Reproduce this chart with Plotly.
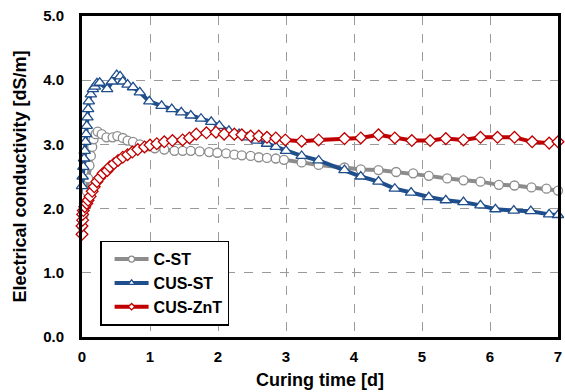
import plotly.graph_objects as go

cst_t = [0, 0.02, 0.05, 0.07, 0.09, 0.11, 0.13, 0.15, 0.17, 0.2, 0.23, 0.29, 0.36, 0.45, 0.52, 0.6, 0.67,
         0.75, 0.85, 0.96, 1.07, 1.21, 1.36, 1.48, 1.6, 1.73, 1.87, 1.99, 2.12, 2.24, 2.35, 2.48, 2.6, 2.72,
         2.85, 2.97, 3.23, 3.48, 3.86, 4.1, 4.36, 4.62, 4.87, 5.1, 5.37, 5.61, 5.86, 6.13, 6.36, 6.61, 6.83, 7.0]
cst_v = [1.73, 1.9, 2.05, 2.27, 2.47, 2.67, 2.82, 2.96, 3.08, 3.16, 3.2, 3.16, 3.11, 3.11, 3.13, 3.1, 3.06,
         3.04, 3.0, 2.97, 2.94, 2.92, 2.9, 2.9, 2.9, 2.89, 2.88, 2.87, 2.86, 2.84, 2.83, 2.82, 2.8, 2.79,
         2.78, 2.76, 2.72, 2.68, 2.64, 2.61, 2.6, 2.57, 2.55, 2.51, 2.47, 2.44, 2.42, 2.37, 2.36, 2.33, 2.31, 2.28]

cusst_t = [0, 0.01, 0.02, 0.03, 0.04, 0.05, 0.06, 0.07, 0.08, 0.09, 0.1, 0.13, 0.16, 0.19, 0.22, 0.26, 0.37,
           0.44, 0.51, 0.56, 0.6, 0.67, 0.75, 0.85, 0.99, 1.17, 1.32, 1.46, 1.6, 1.75, 1.9, 2.02, 2.16, 2.31,
           2.43, 2.57, 2.72, 2.85, 3.0, 3.23, 3.48, 3.86, 4.1, 4.36, 4.6, 4.84, 5.1, 5.35, 5.61, 5.86, 6.08,
           6.35, 6.6, 6.87, 7.0]
cusst_v = [2.35, 2.5, 2.65, 2.78, 2.9, 3.04, 3.16, 3.29, 3.42, 3.55, 3.67, 3.78, 3.86, 3.9, 3.95, 3.96, 3.86,
           3.98, 4.08, 4.06, 3.98, 3.93, 3.89, 3.81, 3.67, 3.6, 3.55, 3.5, 3.45, 3.4, 3.35, 3.29, 3.21, 3.16,
           3.11, 3.06, 3.01, 2.96, 2.9, 2.82, 2.75, 2.6, 2.5, 2.42, 2.31, 2.25, 2.18, 2.13, 2.1, 2.05, 1.99,
           1.97, 1.96, 1.91, 1.9]

cuszn_t = [0, 0.0, 0.01, 0.01, 0.02, 0.04, 0.07, 0.09, 0.12, 0.15, 0.18, 0.22, 0.26, 0.31, 0.37, 0.41, 0.47,
           0.53, 0.6, 0.67, 0.74, 0.82, 0.92, 1.0, 1.1, 1.21, 1.33, 1.48, 1.58, 1.68, 1.83, 1.97, 2.09, 2.24,
           2.35, 2.48, 2.6, 2.72, 2.85, 2.99, 3.23, 3.48, 3.86, 4.1, 4.36, 4.6, 4.85, 5.12, 5.35, 5.61, 5.86,
           6.11, 6.36, 6.62, 6.87, 7.0]
cuszn_v = [1.6, 1.73, 1.82, 1.91, 1.97, 2.03, 2.08, 2.13, 2.19, 2.27, 2.34, 2.42, 2.48, 2.55, 2.59, 2.65, 2.7,
           2.75, 2.8, 2.84, 2.88, 2.92, 2.96, 2.99, 3.01, 3.04, 3.06, 3.07, 3.1, 3.16, 3.18, 3.19, 3.16, 3.16,
           3.15, 3.13, 3.13, 3.11, 3.1, 3.07, 3.05, 3.07, 3.09, 3.1, 3.15, 3.1, 3.06, 3.06, 3.09, 3.07, 3.11,
           3.11, 3.11, 3.04, 3.02, 3.04]

x_ticks = [0, 1, 2, 3, 4, 5, 6, 7]
y_ticks = [0, 1, 2, 3, 4, 5]

FONT = "Arial, Liberation Sans, sans-serif"

fig = go.Figure()
series = [
    ("C-ST", cst_t, cst_v, "#8c8c8c", "circle", 9, 6),
    ("CUS-ST", cusst_t, cusst_v, "#1f4e8c", "triangle-up", 10, 6),
    ("CUS-ZnT", cuszn_t, cuszn_v, "#c00000", "diamond", 9, 5),
]
for name, t, v, col, sym, sz, lsz in series:
    fig.add_trace(go.Scatter(
        x=t, y=v, name=name, mode="lines+markers", cliponaxis=False, showlegend=False,
        line=dict(color=col, width=4),
        marker=dict(symbol=sym, size=sz, color="white", line=dict(color=col, width=1.3)),
    ))
# legend entries with small markers, as in the original
for name, t, v, col, sym, sz, lsz in series:
    fig.add_trace(go.Scatter(
        x=[None], y=[None], name=name, mode="lines+markers", showlegend=True,
        line=dict(color=col, width=4),
        marker=dict(symbol=sym, size=lsz, color="white", line=dict(color=col, width=1.3)),
    ))

axis_common = dict(
    showline=True, linecolor="black", linewidth=3, mirror=True,
    showgrid=True, gridcolor="#9a9a9a", griddash="dash", gridwidth=1,
    ticks="", zeroline=False,
    tickfont=dict(family=FONT, size=15, color="black", weight="bold"),
)
fig.update_xaxes(range=[0, 7], tickvals=x_ticks, ticktext=[str(v) for v in x_ticks],
                 ticklabelstandoff=4,
                 title=dict(text="<b>Curing time [d]</b>", font=dict(family=FONT, size=18, color="black"),
                            standoff=10),
                 **axis_common)
fig.update_yaxes(range=[0, 5], tickvals=y_ticks, ticktext=[f"{v:.1f}" for v in y_ticks],
                 ticklabelstandoff=12,
                 title=dict(text="<b>Electrical conductivity [dS/m]</b>",
                            font=dict(family=FONT, size=18, color="black"), standoff=12),
                 **axis_common)

fig.update_layout(
    width=565, height=392,
    margin=dict(l=82, r=4, t=16, b=52),
    plot_bgcolor="white", paper_bgcolor="white",
    font=dict(family=FONT, color="black"),
    showlegend=True,
    legend=dict(x=0.038, y=0.30, xanchor="left", yanchor="top",
                bgcolor="white", bordercolor="black", borderwidth=1.5,
                font=dict(family=FONT, size=16, color="black", weight="bold"),
                itemwidth=34, indentation=8, tracegroupgap=0),
)

fig.write_html("out.html")
